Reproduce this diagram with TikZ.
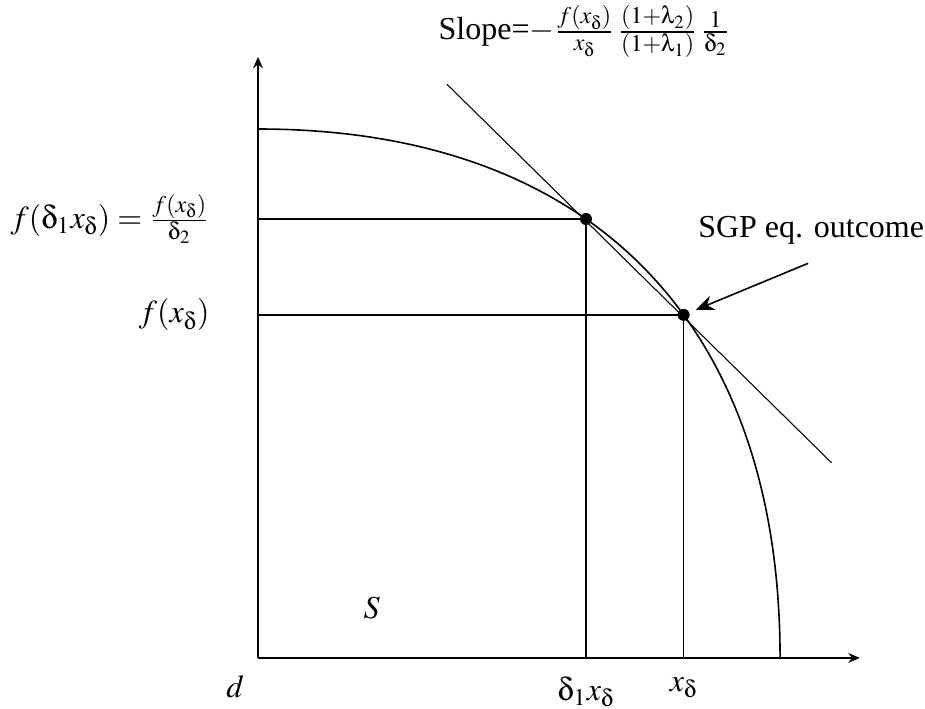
\documentclass[tikz,border=0pt,12pt]{standalone}
\usepackage{mathptmx}
\usepackage[Symbol]{upgreek}
\usepackage{fontspec}
\setmainfont{Liberation Serif}
\usetikzlibrary{arrows.meta,calc}

\begin{document}
\begin{tikzpicture}[
    axis/.style={-{Stealth[length=1.5mm,width=1.3mm]}, semithick},
    guide/.style={semithick},
    dot/.style={circle, fill=black, inner sep=0pt, minimum size=4.5pt},
    arrow/.style={-{Stealth[length=2.4mm,width=2mm]}, semithick, shorten >=2.5pt}
]
    \useasboundingbox (-3.40,-0.67) rectangle (8.79,8.67);

    % axes
    \coordinate (o) at (0,0);
    \coordinate (xend) at (7.93,0);
    \coordinate (yend) at (0,7.92);
    \draw[axis] (o) -- (xend);
    \draw[axis] (o) -- (yend);

    % frontier
    \coordinate (top) at (0,6.97);
    \coordinate (foot) at (6.88,0);
    \draw[guide] (top) .. controls (4.40,6.97) and (6.88,4.40) .. (foot)
        coordinate[pos=0.4] (A) coordinate[pos=0.58] (B);

    % projections
    \coordinate (Ax) at (A |- o);
    \coordinate (Ay) at (A -| o);
    \coordinate (Bx) at (B |- o);
    \coordinate (By) at (B -| o);
    \draw[guide] (Ay) -- (A) -- (Ax);
    \draw[guide] (By) -- (B) -- (Bx);

    % slope line
    \coordinate (s1) at ($(B)+(-3.12,3.04)$);
    \coordinate (s2) at ($(B)+(1.95,-1.95)$);
    \draw[thin] (s1) -- (s2);

    \node[dot] (dA) at (A) {};
    \node[dot] (dB) at (B) {};

    % labels
    \node (slope) at (4.30,8.25) {Slope=$-\frac{f(x_\updelta)}{x_\updelta}\,\frac{(1+\uplambda_2)}{(1+\uplambda_1)}\,\frac{1}{\updelta_2}$};
    \node (sgp) at (7.29,5.64) {SGP eq. outcome};
    \coordinate (tail) at (7.25,5.20);
    \draw[arrow] (tail) -- (dB);

    \node[left=14pt] (fA) at (Ay) {$f(\updelta_1 x_\updelta)=\frac{f(x_\updelta)}{\updelta_2}$};
    \node[left=14pt] (fB) at (By) {$f(x_\updelta)$};
    \node[below=3pt] (xA) at (Ax) {$\updelta_1 x_\updelta$};
    \node[below=3pt] (xB) at (Bx) {$x_\updelta$};
    \node (d) at (-0.30,-0.38) {$d$};
    \node (S) at (1.50,0.66) {$S$};
\end{tikzpicture}
\end{document}
